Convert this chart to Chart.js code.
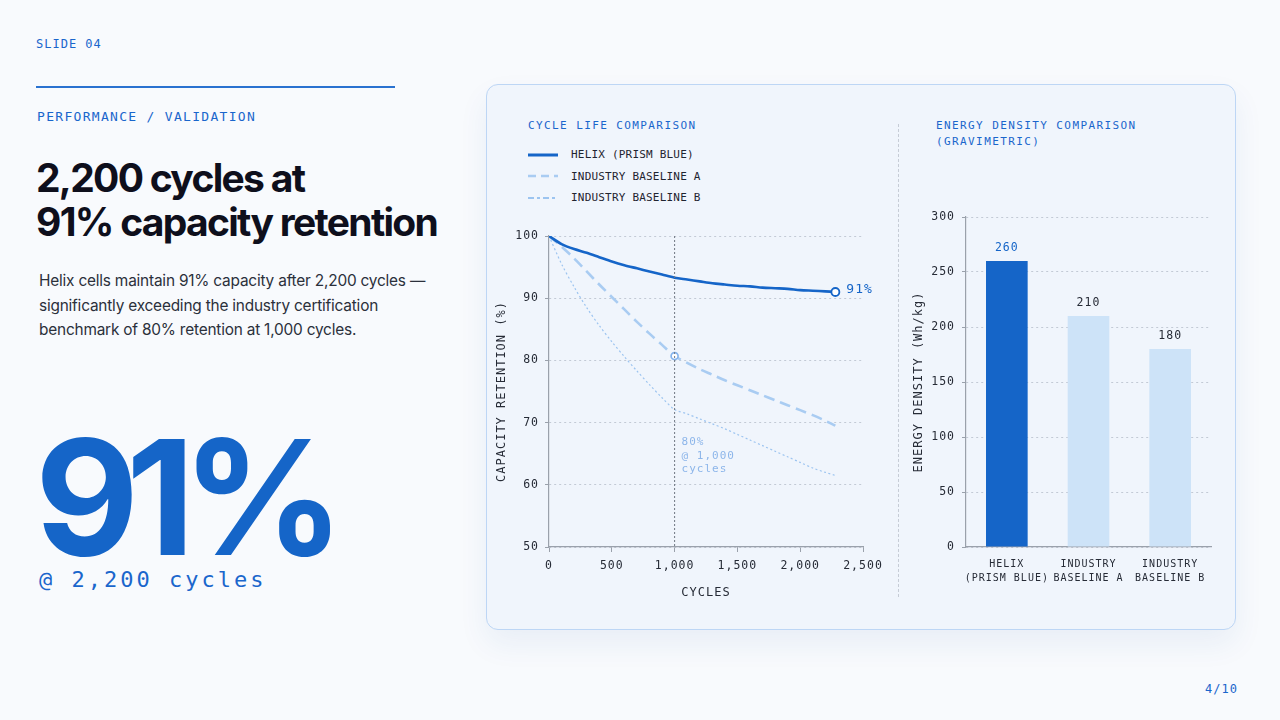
<!DOCTYPE html>
<html>
<head>
<meta charset="utf-8">
<script src="https://cdn.jsdelivr.net/npm/chart.js@4.4.1/dist/chart.umd.min.js"></script>
<style>
  html, body { margin: 0; padding: 0; }
  body { width: 1280px; height: 720px; background: #f8fafd; position: relative; overflow: hidden; font-family: Inter, "Noto Sans", sans-serif; }
  .mono { font-family: "DejaVu Sans Mono", "Liberation Mono", monospace; }
  .abs { position: absolute; }
  #slideNo { left: 36px; top: 37px; font-size: 12px; letter-spacing: 1px; color: #1a66cc; }
  #rule { left: 36px; top: 86px; width: 359px; height: 2px; background: #2a72d0; }
  #kicker { left: 37px; top: 109px; font-size: 13px; letter-spacing: 1.3px; color: #1a66cc; }
  #headline { left: 36px; top: 156px; margin: 0; font-size: 39px; line-height: 44px; font-weight: 700; letter-spacing: -1.7px; color: #0e0f1c; }
  #lede { left: 39px; top: 269px; margin: 0; font-size: 15.4px; line-height: 24.5px; color: #2b303b; letter-spacing: -0.2px; }
  #big { left: 35px; top: 397px; font-size: 160px; line-height: 200px; font-weight: 700; letter-spacing: -13px; color: #1565c8; }
  #bigSub { left: 39px; top: 567px; font-size: 22px; letter-spacing: 3px; color: #1a66cc; }
  #pager { left: 1205px; top: 682px; font-size: 12px; letter-spacing: 1px; color: #1a66cc; }
  #card { left: 486px; top: 84px; width: 748px; height: 544px; border: 1.5px solid #bdd6f5; border-radius: 12px; background: #f0f5fc; box-shadow: 0 14px 30px rgba(30, 80, 160, 0.07); }
  #divider { left: 898px; top: 124px; height: 473px; border-left: 1px dashed #c6ccd6; }
  .ctitle { font-size: 11px; letter-spacing: 1.4px; color: #1a66cc; line-height: 16px; }
  #t1 { left: 528px; top: 118px; }
  #t2 { left: 936px; top: 118px; }
  #legend { left: 528px; top: 144px; }
  .lg { height: 21.5px; display: flex; align-items: center; font-size: 11px; color: #1f2430; letter-spacing: 0.2px; }
  .lg svg { margin-right: 13px; }
  #c1wrap { left: 490px; top: 215px; width: 406px; height: 395px; }
  #c2wrap { left: 900px; top: 195px; width: 330px; height: 405px; }
</style>
</head>
<body>
<div id="slideNo" class="abs mono">SLIDE 04</div>
<div id="rule" class="abs"></div>
<div id="kicker" class="abs mono">PERFORMANCE / VALIDATION</div>
<h1 id="headline" class="abs">2,200 cycles at<br>91% capacity retention</h1>
<p id="lede" class="abs">Helix cells maintain 91% capacity after 2,200 cycles —<br>significantly exceeding the industry certification<br>benchmark of 80% retention at 1,000 cycles.</p>
<div id="big" class="abs">91%</div>
<div id="bigSub" class="abs mono">@ 2,200 cycles</div>
<div id="pager" class="abs mono">4/10</div>

<div id="card" class="abs"></div>
<div id="divider" class="abs"></div>
<div id="t1" class="abs mono ctitle">CYCLE LIFE COMPARISON</div>
<div id="t2" class="abs mono ctitle">ENERGY DENSITY COMPARISON<br>(GRAVIMETRIC)</div>
<div id="legend" class="abs mono"></div>
<div id="c1wrap" class="abs"><canvas id="lifeChart"></canvas></div>
<div id="c2wrap" class="abs"><canvas id="densityChart"></canvas></div>

<script>
// ---- data ----
const cycles = [0, 100, 200, 300, 400, 500, 600, 700, 800, 900, 1000, 1100, 1200, 1300, 1400, 1500, 1600, 1700, 1800, 1900, 2000, 2100, 2200, 2280];
const helixRetention = [100, 98.7, 97.9, 97.3, 96.6, 95.9, 95.3, 94.8, 94.3, 93.8, 93.3, 93.0, 92.7, 92.4, 92.2, 92.0, 91.9, 91.7, 91.6, 91.5, 91.3, 91.2, 91.1, 91.0];
const baselineA = [100, 98.3, 96.4, 94.3, 92.2, 90.2, 88.2, 86.2, 84.3, 82.5, 80.7, 79.6, 78.6, 77.7, 76.8, 76.0, 75.2, 74.4, 73.6, 72.8, 72.0, 71.2, 70.3, 69.5];
const baselineB = [100, 95.5, 91.8, 88.5, 85.6, 83.0, 80.6, 78.3, 76.1, 74.0, 72.1, 71.4, 70.6, 69.8, 69.0, 68.1, 67.2, 66.3, 65.4, 64.5, 63.6, 62.7, 62.0, 61.5];
const seriesNames = ['HELIX (PRISM BLUE)', 'INDUSTRY BASELINE  A', 'INDUSTRY BASELINE  B'];
const certCycle = 1000;
const annotationLines = ['80%', '@ 1,000', 'cycles'];

const densityLabels = [['HELIX', '(PRISM BLUE)'], ['INDUSTRY', 'BASELINE A'], ['INDUSTRY', 'BASELINE B']];
const densityValues = [260, 210, 180];

const MONO = '"DejaVu Sans Mono", "Liberation Mono", monospace';
const BLUE = '#1565c8';
const LIGHT_A = '#a9ccf2';
const LIGHT_B = '#9cc4f0';
const INK = '#262b36';
const AXIS = '#9aa1ab';
const GRID = '#c3cad5';

// ---- legend (html) ----
const legendStyles = [
    { color: BLUE, width: 3, dash: '' },
    { color: LIGHT_A, width: 2.5, dash: '8 5' },
    { color: LIGHT_B, width: 2, dash: '6 3 3 3' }
];
document.getElementById('legend').innerHTML = seriesNames.map((name, i) => {
    const s = legendStyles[i];
    return `<div class="lg"><svg width="30" height="6"><line x1="0" y1="3" x2="30" y2="3" stroke="${s.color}" stroke-width="${s.width}" stroke-dasharray="${s.dash}"/></svg>${name}</div>`;
}).join('');

const spacingPlugin = {
    id: 'spacing',
    beforeDraw(chart) { chart.ctx.letterSpacing = '1px'; }
};

// vertical marker + inline labels on the line chart
const lifeNotes = {
    id: 'lifeNotes',
    afterDatasetsDraw(chart) {
        const { ctx, chartArea, scales } = chart;
        const x = scales.x.getPixelForValue(certCycle);
        ctx.save();
        ctx.strokeStyle = '#6f7782';
        ctx.lineWidth = 1;
        ctx.setLineDash([2, 2]);
        ctx.beginPath();
        ctx.moveTo(x, chartArea.top);
        ctx.lineTo(x, chartArea.bottom);
        ctx.stroke();
        ctx.setLineDash([]);

        // 91% label next to last helix point
        const last = chart.getDatasetMeta(0).data[cycles.length - 1];
        ctx.font = '13px ' + MONO;
        ctx.fillStyle = BLUE;
        ctx.textBaseline = 'middle';
        ctx.textAlign = 'left';
        ctx.fillText(helixRetention[helixRetention.length - 1].toFixed(0) + '%', last.x + 11, last.y - 2);

        ctx.font = '11px ' + MONO;
        ctx.fillStyle = '#8db6ea';
        const y0 = scales.y.getPixelForValue(66.8);
        annotationLines.forEach((t, i) => ctx.fillText(t, x + 7, y0 + i * 13.5));
        ctx.restore();
    }
};

const pointRadiusFor = idx => cycles.map((c, i) => i === idx ? 4 : 0);

new Chart(document.getElementById('lifeChart'), {
    type: 'line',
    data: {
        datasets: [
            {
                label: seriesNames[0],
                data: cycles.map((c, i) => ({ x: c, y: helixRetention[i] })),
                borderColor: BLUE,
                borderWidth: 2.6,
                pointRadius: pointRadiusFor(cycles.length - 1),
                pointBackgroundColor: '#ffffff',
                pointBorderColor: BLUE,
                pointBorderWidth: 1.8,
                tension: 0.3,
                order: 0
            },
            {
                label: seriesNames[1],
                data: cycles.map((c, i) => ({ x: c, y: baselineA[i] })),
                borderColor: LIGHT_A,
                borderWidth: 2.6,
                borderDash: [11, 6],
                pointRadius: cycles.map(c => c === certCycle ? 3.5 : 0),
                pointBackgroundColor: '#ffffff',
                pointBorderColor: '#86b4ec',
                pointBorderWidth: 1.7,
                tension: 0.3,
                order: 1
            },
            {
                label: seriesNames[2],
                data: cycles.map((c, i) => ({ x: c, y: baselineB[i] })),
                borderColor: LIGHT_B,
                borderWidth: 1.2,
                borderDash: [2, 2.5],
                pointRadius: 0,
                tension: 0.3,
                order: 2
            }
        ]
    },
    options: {
        responsive: true,
        maintainAspectRatio: false,
        animation: false,
        layout: { padding: { top: 21, right: 33, bottom: 0, left: 0 } },
        plugins: { legend: { display: false }, tooltip: { enabled: false } },
        scales: {
            x: {
                type: 'linear',
                min: 0,
                max: 2500,
                afterFit: s => { s.height = 63; s.paddingLeft = 0; s.paddingRight = 0; },
                ticks: {
                    stepSize: 500,
                    color: INK,
                    padding: 7,
                    maxRotation: 0,
                    font: { family: MONO, size: 11.5 },
                    callback: v => v.toLocaleString('en-US')
                },
                grid: { drawOnChartArea: false, drawTicks: true, tickLength: 5, tickColor: AXIS },
                border: { display: true, color: AXIS, width: 1.2 },
                title: { display: true, text: 'CYCLES', color: INK, padding: { top: 0, bottom: 10 }, font: { family: MONO, size: 12 } }
            },
            y: {
                min: 50,
                max: 100,
                afterFit: s => { s.width = 59; },
                ticks: { stepSize: 10, color: INK, padding: 6, font: { family: MONO, size: 11.5 } },
                grid: { color: GRID, tickColor: AXIS, tickLength: 4, lineWidth: 1 },
                border: { display: true, color: AXIS, width: 1.2, dash: [2, 3] },
                title: { display: true, text: 'CAPACITY RETENTION (%)', color: INK, padding: { top: 5 }, font: { family: MONO, size: 12 } }
            }
        }
    },
    plugins: [spacingPlugin, lifeNotes]
});

// value labels above bars
const barValues = {
    id: 'barValues',
    afterDatasetsDraw(chart) {
        const { ctx } = chart;
        const meta = chart.getDatasetMeta(0);
        ctx.save();
        ctx.font = '11.5px ' + MONO;
        ctx.textAlign = 'center';
        ctx.textBaseline = 'middle';
        meta.data.forEach((bar, i) => {
            ctx.fillStyle = i === 0 ? BLUE : INK;
            ctx.fillText(String(densityValues[i]), bar.x, bar.y - 12.5);
        });
        ctx.restore();
    }
};

new Chart(document.getElementById('densityChart'), {
    type: 'bar',
    data: {
        labels: densityLabels,
        datasets: [{
            data: densityValues,
            backgroundColor: [BLUE, '#cde3f8', '#cde3f8'],
            borderWidth: 0,
            barPercentage: 0.51,
            categoryPercentage: 1
        }]
    },
    options: {
        responsive: true,
        maintainAspectRatio: false,
        animation: false,
        layout: { padding: { top: 22, right: 19, bottom: 0, left: 0 } },
        plugins: { legend: { display: false }, tooltip: { enabled: false } },
        scales: {
            x: {
                afterFit: s => { s.height = 53; s.paddingLeft = 0; s.paddingRight = 0; },
                ticks: { color: INK, padding: 2, maxRotation: 0, font: { family: MONO, size: 10, lineHeight: 1.4 } },
                grid: { display: false },
                border: { display: true, color: AXIS, width: 1.2 }
            },
            y: {
                min: 0,
                max: 300,
                afterFit: s => { s.width = 66; },
                ticks: { stepSize: 50, color: INK, padding: 7, font: { family: MONO, size: 11.5 } },
                grid: { color: GRID, tickColor: AXIS, tickLength: 4, lineWidth: 1 },
                border: { display: true, color: AXIS, width: 1.2, dash: [2, 3] },
                title: { display: true, text: 'ENERGY DENSITY (Wh/kg)', color: INK, padding: { top: 12 }, font: { family: MONO, size: 12 } }
            }
        }
    },
    plugins: [spacingPlugin, barValues]
});
</script>
</body>
</html>
